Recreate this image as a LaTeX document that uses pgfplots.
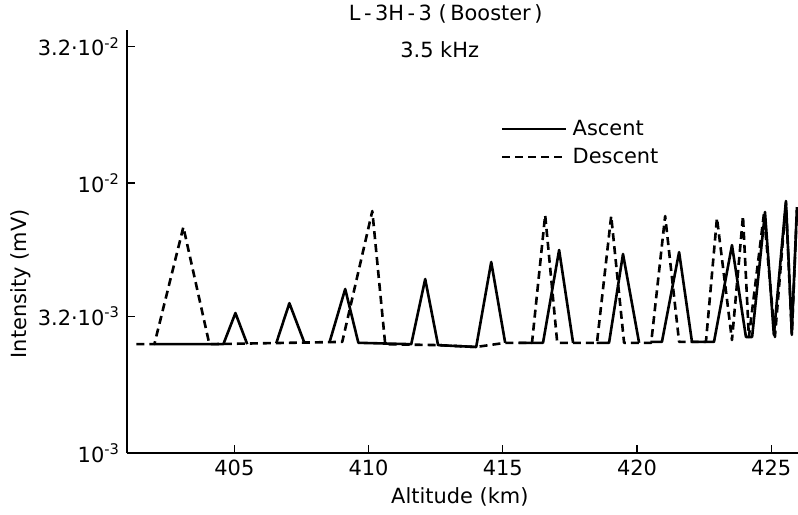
\documentclass[border=0pt]{standalone}
\usepackage{fontspec}
\setmainfont{DejaVu Sans}
\usepackage{pgfplots}
\pgfplotsset{compat=1.18}

\begin{document}
\begin{tikzpicture}[font=\fontsize{10.5}{12}\selectfont]
\begin{axis}[
  name=ax,
  scale only axis,
  width=335.5bp,
  height=211.5bp,
  xmin=401, xmax=426,
  ymode=log, ymin=1e-3, ymax=0.0369,
  axis x line=bottom,
  axis y line=left,
  axis line style={-, line width=1bp},
  xtick={405,410,415,420,425},
  xticklabels={405,410,415,420,425},
  ytick={0.001,0.0032,0.01,0.032},
  yticklabels={10\textsuperscript{-3},3.2·10\textsuperscript{-3},10\textsuperscript{-2},3.2·10\textsuperscript{-2}},
  yminorticks=false,
  tick align=inside,
  major tick length=4bp,
  tick style={line width=0.6bp, black},
  tick label style={font=\fontsize{10.5}{12}\selectfont},
  clip mode=individual,
  legend style={draw=none, fill=none, at={(0.548,0.81)}, anchor=north west,
    font=\fontsize{10.5}{12}\selectfont, row sep=0bp, nodes={inner sep=2.5bp}},
  legend cell align=left,
  legend image code/.code={\draw[#1] (0bp,0bp) -- (32bp,0bp);},
  every axis plot/.append style={line width=1.3bp, black, line join=round},
]
% legend
\addlegendimage{solid}
\addlegendentry{Ascent}
\addlegendimage{dash pattern=on 4bp off 2.5bp}
\addlegendentry{Descent}

% descent
\addplot[dash pattern=on 4bp off 2.5bp, forget plot] coordinates {
  (401.35,2.53e-3) (402.02,2.53e-3) (403.10,6.87e-3) (404.07,2.53e-3)
  (409.02,2.58e-3) (410.14,7.88e-3) (410.62,2.53e-3) (412.60,2.51e-3)
  (414.00,2.47e-3) (415.10,2.56e-3) (416.09,2.56e-3) (416.58,7.61e-3)
  (417.03,2.56e-3) (418.51,2.56e-3) (419.04,7.55e-3) (419.52,2.56e-3)
  (420.53,2.56e-3) (421.05,7.55e-3) (421.57,2.58e-3) (422.57,2.58e-3)
  (422.98,7.42e-3) (423.54,2.62e-3) (423.95,7.55e-3) (424.17,2.69e-3)
  (424.73,7.68e-3) (425.14,2.69e-3) (425.55,8.43e-3) (425.77,2.74e-3)
  (425.96,7.94e-3)
};

% ascent, in pieces
\addplot[forget plot] coordinates {
  (402.02,2.53e-3) (404.59,2.53e-3) (405.04,3.30e-3) (405.48,2.53e-3)
};
\addplot[forget plot] coordinates {
  (406.56,2.55e-3) (407.05,3.59e-3) (407.61,2.56e-3)
};
\addplot[forget plot] coordinates {
  (408.54,2.56e-3) (409.13,4.05e-3) (409.62,2.56e-3) (411.59,2.53e-3)
  (412.11,4.41e-3) (412.59,2.51e-3) (414.01,2.47e-3) (414.57,5.10e-3)
  (415.09,2.56e-3)
};
\addplot[forget plot] coordinates {
  (415.60,2.56e-3) (416.50,2.56e-3) (417.10,5.65e-3) (417.62,2.56e-3)
};
\addplot[forget plot] coordinates {
  (418.50,2.56e-3) (418.96,2.56e-3) (419.48,5.46e-3) (420.08,2.56e-3)
};
\addplot[forget plot] coordinates {
  (420.50,2.58e-3) (420.93,2.58e-3) (421.57,5.55e-3) (422.05,2.58e-3)
  (422.87,2.58e-3) (423.54,5.89e-3) (424.06,2.69e-3) (424.29,2.69e-3)
  (424.77,7.81e-3) (425.10,2.74e-3) (425.55,8.58e-3) (425.77,2.78e-3)
  (425.96,8.15e-3)
};

\node at (rel axis cs:0.475,1.038) {L\,-\,3H\,-\,3 (\,Booster\,)};
\node at (rel axis cs:0.466,0.953) {3.5 kHz};
\node[rotate=90] at (rel axis cs:-0.159,0.40) {Intensity (mV)};
\node at (rel axis cs:0.496,-0.104) {Altitude (km)};
\end{axis}
\pgfresetboundingbox
\path[use as bounding box] (ax.south west) ++(-63.5bp,-31bp) rectangle ([yshift=15bp]ax.north east);
\end{tikzpicture}
\end{document}
